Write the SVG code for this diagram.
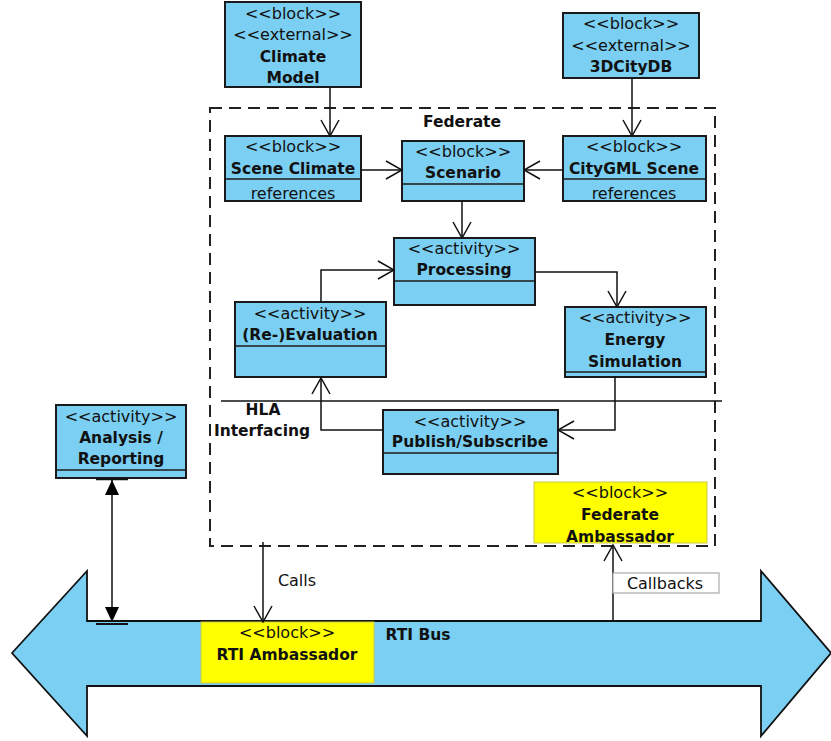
<svg xmlns="http://www.w3.org/2000/svg" width="831" height="741" viewBox="0 0 831 741">
<style>
text{font-family:"DejaVu Sans","Liberation Sans",sans-serif;font-size:16px;fill:#111;text-anchor:middle}
.b{font-weight:bold;font-size:15.5px}
.box{fill:#7BCFF3;stroke:#1a1a1a;stroke-width:2}
.yel{fill:#FFFF00;stroke:#c8c84a;stroke-width:1}
.div{stroke:#1a1a1a;stroke-width:1.5;fill:none}
.con{fill:none;stroke:#111;stroke-width:1.5}
.open{marker-end:url(#open)}
</style>
<defs>
<marker id="open" viewBox="0 0 18 20" refX="17" refY="10" markerWidth="18" markerHeight="20" markerUnits="userSpaceOnUse" orient="auto">
<path d="M1,1 L17,10 L1,19" fill="none" stroke="#111" stroke-width="1.5"/>
</marker>
<marker id="tri" viewBox="0 0 15 16" refX="15" refY="8" markerWidth="15" markerHeight="16" markerUnits="userSpaceOnUse" orient="auto-start-reverse">
<path d="M0,1 L15,8 L0,15 Z" fill="#000"/>
</marker>
</defs>

<g id="rti-bus">
<polygon points="12,653 87,571 87,621 761,621 761,571 831,653 761,736 761,686 87,686 87,736" fill="#7BCFF3" stroke="#111" stroke-width="1.8"/>
<text class="b" x="418" y="640">RTI Bus</text>
</g>

<g id="rti-ambassador">
<rect class="yel" x="201" y="622" width="173" height="61"/>
<text x="287" y="638">&lt;&lt;block&gt;&gt;</text>
<text class="b" x="287" y="660">RTI Ambassador</text>
</g>

<g id="federate">
<rect x="210" y="108" width="505" height="438" fill="none" stroke="#222" stroke-width="2" stroke-dasharray="12,7"/>
<text class="b" x="462" y="127">Federate</text>
<line x1="221" y1="401" x2="722" y2="401" stroke="#111" stroke-width="1.5"/>
<text class="b" x="263" y="415">HLA</text>
<text class="b" x="262" y="436">Interfacing</text>
</g>

<g id="climate-model">
<rect class="box" x="225" y="2" width="136" height="85"/>
<text x="293" y="19">&lt;&lt;block&gt;&gt;</text>
<text x="293" y="40">&lt;&lt;external&gt;&gt;</text>
<text class="b" x="293" y="62">Climate</text>
<text class="b" x="293" y="83">Model</text>
</g>

<g id="citydb">
<rect class="box" x="563" y="13" width="136" height="65"/>
<text x="631" y="29">&lt;&lt;block&gt;&gt;</text>
<text x="631" y="51">&lt;&lt;external&gt;&gt;</text>
<text class="b" x="631" y="72">3DCityDB</text>
</g>

<g id="scene-climate">
<rect class="box" x="225" y="136" width="136" height="65"/>
<line class="div" x1="225" y1="179" x2="361" y2="179"/>
<text x="293" y="152">&lt;&lt;block&gt;&gt;</text>
<text class="b" x="293" y="174">Scene Climate</text>
<text x="293" y="199">references</text>
</g>

<g id="citygml-scene">
<rect class="box" x="563" y="136" width="143" height="65"/>
<line class="div" x1="563" y1="179" x2="706" y2="179"/>
<text x="634" y="152">&lt;&lt;block&gt;&gt;</text>
<text class="b" x="634" y="174">CityGML Scene</text>
<text x="634" y="199">references</text>
</g>

<g id="scenario">
<rect class="box" x="402" y="141" width="122" height="60"/>
<line class="div" x1="402" y1="184" x2="524" y2="184"/>
<text x="463" y="157">&lt;&lt;block&gt;&gt;</text>
<text class="b" x="463" y="178">Scenario</text>
</g>

<g id="processing">
<rect class="box" x="394" y="238" width="141" height="67"/>
<line class="div" x1="394" y1="281" x2="535" y2="281"/>
<text x="464" y="254">&lt;&lt;activity&gt;&gt;</text>
<text class="b" x="464" y="275">Processing</text>
</g>

<g id="re-evaluation">
<rect class="box" x="235" y="302" width="151" height="75"/>
<line class="div" x1="235" y1="346" x2="386" y2="346"/>
<text x="310" y="319">&lt;&lt;activity&gt;&gt;</text>
<text class="b" x="310" y="340">(Re-)Evaluation</text>
</g>

<g id="energy-simulation">
<rect class="box" x="565" y="307" width="141" height="70"/>
<line class="div" x1="565" y1="372" x2="706" y2="372"/>
<text x="635" y="323">&lt;&lt;activity&gt;&gt;</text>
<text class="b" x="635" y="345">Energy</text>
<text class="b" x="635" y="367">Simulation</text>
</g>

<g id="publish-subscribe">
<rect class="box" x="383" y="410" width="175" height="64"/>
<line class="div" x1="383" y1="453" x2="558" y2="453"/>
<text x="470" y="427">&lt;&lt;activity&gt;&gt;</text>
<text class="b" x="470" y="447">Publish/Subscribe</text>
</g>

<g id="federate-ambassador">
<rect class="yel" x="534" y="482" width="173" height="61"/>
<text x="620" y="498">&lt;&lt;block&gt;&gt;</text>
<text class="b" x="620" y="520">Federate</text>
<text class="b" x="620" y="542">Ambassador</text>
</g>

<g id="analysis-reporting">
<rect class="box" x="56" y="405" width="130" height="73"/>
<line class="div" x1="56" y1="470" x2="186" y2="470"/>
<text x="121" y="422">&lt;&lt;activity&gt;&gt;</text>
<text class="b" x="121" y="443">Analysis /</text>
<text class="b" x="121" y="464">Reporting</text>
</g>

<g id="connectors">
<path class="con open" d="M330,87 V136"/>
<path class="con open" d="M632,78 V136"/>
<path class="con open" d="M361,170 H402"/>
<path class="con open" d="M563,170 H524"/>
<path class="con open" d="M462,201 V238"/>
<path class="con open" d="M321,302 V270 H394"/>
<path class="con open" d="M535,272 H617 V307"/>
<path class="con open" d="M615,377 V430 H558"/>
<path class="con open" d="M383,430 H321 V378"/>
<path class="con open" d="M263,542 V622"/>
<path class="con open" d="M613,622 V545"/>
<path d="M112,480 V622" fill="none" stroke="#111" stroke-width="1.5" marker-start="url(#tri)" marker-end="url(#tri)"/>
<line x1="96" y1="479" x2="128" y2="479" stroke="#111" stroke-width="2.5"/>
<line x1="96" y1="624" x2="128" y2="624" stroke="#111" stroke-width="2"/>
<text x="297" y="586">Calls</text>
<rect x="613" y="573" width="106" height="20" fill="#fff" stroke="#aaa" stroke-width="1.2"/>
<text x="665" y="589">Callbacks</text>
</g>
</svg>
